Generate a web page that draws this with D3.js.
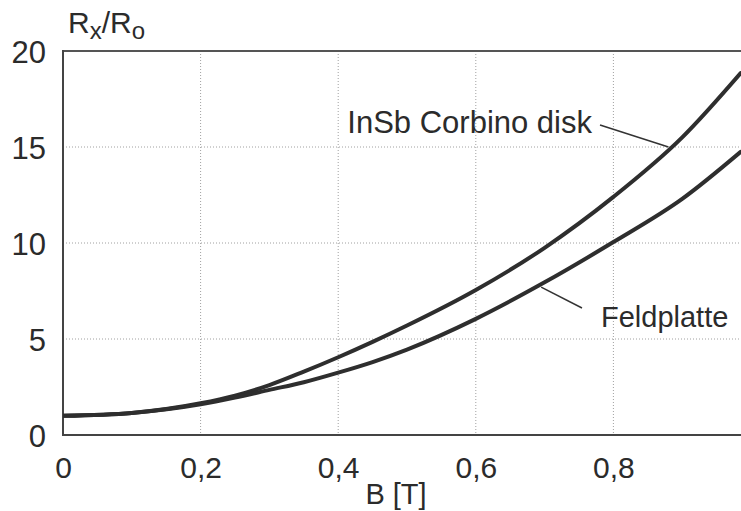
<!DOCTYPE html>
<html>
<head>
<meta charset="utf-8">
<script src="https://cdn.jsdelivr.net/npm/d3@7"></script>
<style>
  html, body { margin: 0; padding: 0; background: #fff; }
  svg { display: block; }
  text { font-family: "Liberation Sans", Arial, sans-serif; fill: #2b2b2b; }
</style>
</head>
<body>
<svg id="chart" width="741" height="511"></svg>
<script>
// ---- data ----
const fieldB      = [0, 0.1, 0.2, 0.25, 0.3, 0.35, 0.4, 0.45, 0.5, 0.6, 0.7, 0.8, 0.9, 0.985];
const insbValues  = [1.0, 1.15, 1.65, 2.05, 2.6, 3.3, 4.05, 4.85, 5.7, 7.55, 9.75, 12.4, 15.5, 18.85];
const feldValues  = [1.0, 1.15, 1.6, 1.95, 2.35, 2.75, 3.25, 3.8, 4.45, 6.05, 7.95, 10.05, 12.3, 14.75];
const seriesNames = ["InSb Corbino disk", "Feldplatte"];
const xTicks      = [0, 0.2, 0.4, 0.6, 0.8];
const xTickLabels = ["0", "0,2", "0,4", "0,6", "0,8"];
const yTicks      = [0, 5, 10, 15, 20];
const yTickLabels = ["0", "5", "10", "15", "20"];
const xTitle = "B [T]";
// label anchors on the curves (data space)
const insbAnchor = [0.88, 15.0];
const feldAnchor = [0.695, 7.7];

// ---- layout ----
const svg = d3.select("#chart");
const mLeft = 63, mRight = 741, mTop = 51, mBottom = 435;
const x = d3.scaleLinear().domain([0, 1]).range([mLeft, mLeft + 688]);
const y = d3.scaleLinear().domain([0, 20]).range([mBottom, mTop]);

svg.append("defs").append("clipPath").attr("id", "clip")
  .append("rect").attr("x", mLeft).attr("y", mTop - 5).attr("width", mRight - mLeft).attr("height", mBottom - mTop + 10);

// grid (dotted)
const grid = svg.append("g");
grid.selectAll("line.v").data(xTicks.filter(d => d > 0)).join("line")
  .attr("x1", d => x(d)).attr("x2", d => x(d))
  .attr("y1", y(20)).attr("y2", y(0))
  .attr("stroke", "#a0a0a0").attr("stroke-width", 1).attr("stroke-dasharray", "1,2");
grid.selectAll("line.h").data(yTicks.filter(d => d > 0 && d < 20)).join("line")
  .attr("x1", mLeft).attr("x2", mRight)
  .attr("y1", d => y(d)).attr("y2", d => y(d))
  .attr("stroke", "#a0a0a0").attr("stroke-width", 1).attr("stroke-dasharray", "1,2");

// frame: left, bottom, top
svg.append("line").attr("x1", mLeft).attr("x2", mRight).attr("y1", y(20)).attr("y2", y(20))
  .attr("stroke", "#555").attr("stroke-width", 2);
svg.append("line").attr("x1", mLeft).attr("x2", mRight).attr("y1", y(0)).attr("y2", y(0))
  .attr("stroke", "#444").attr("stroke-width", 2);
svg.append("line").attr("x1", mLeft).attr("x2", mLeft).attr("y1", y(20) - 1).attr("y2", y(0) + 1)
  .attr("stroke", "#444").attr("stroke-width", 2);

// axes (labels only)
const xAxis = d3.axisBottom(x).tickValues(xTicks).tickSize(0)
  .tickFormat((d, i) => xTickLabels[i]);
const gx = svg.append("g").attr("transform", `translate(0,${mBottom})`).call(xAxis);
gx.select(".domain").remove();
gx.selectAll("text").attr("y", 43).attr("dy", null)
  .style("font-size", "30px").style("font-family", "Liberation Sans, Arial, sans-serif").attr("fill", "#2b2b2b");

const yAxis = d3.axisLeft(y).tickValues(yTicks).tickSize(0).tickPadding(17)
  .tickFormat((d, i) => yTickLabels[i]);
const gy = svg.append("g").attr("transform", `translate(${mLeft},0)`).call(yAxis);
gy.select(".domain").remove();
gy.selectAll("text").attr("dy", "0.36em")
  .style("font-size", "31px").style("font-family", "Liberation Sans, Arial, sans-serif").attr("fill", "#2b2b2b");

// y title R_x/R_o
const yt = svg.append("text").attr("x", 68).attr("y", 33).style("font-size", "30px");
yt.append("tspan").text("R");
yt.append("tspan").text("x").attr("dy", 6).style("font-size", "24px");
yt.append("tspan").text("/R").attr("dy", -6);
yt.append("tspan").text("o").attr("dy", 6).style("font-size", "24px");

// x title
svg.append("text").attr("x", 396).attr("y", 504).attr("text-anchor", "middle")
  .style("font-size", "29px").text(xTitle);

// curves
const line = d3.line().x(d => x(d[0])).y(d => y(d[1])).curve(d3.curveMonotoneX);
const curves = svg.append("g").attr("clip-path", "url(#clip)");
[insbValues, feldValues].forEach(vals => {
  curves.append("path")
    .datum(fieldB.map((b, i) => [b, vals[i]]))
    .attr("d", line)
    .attr("fill", "none").attr("stroke", "#2e2e2e").attr("stroke-width", 4)
    .attr("stroke-linejoin", "round").attr("stroke-linecap", "round");
});

// annotations
svg.append("text").attr("x", 592).attr("y", 133).attr("text-anchor", "end")
  .style("font-size", "31px").text(seriesNames[0]);
svg.append("line").attr("x1", 600).attr("y1", 125)
  .attr("x2", x(insbAnchor[0])).attr("y2", y(insbAnchor[1]))
  .attr("stroke", "#333").attr("stroke-width", 1.5);

svg.append("text").attr("x", 601).attr("y", 327)
  .style("font-size", "29px").text(seriesNames[1]);
svg.append("line").attr("x1", 582).attr("y1", 308)
  .attr("x2", x(feldAnchor[0])).attr("y2", y(feldAnchor[1]))
  .attr("stroke", "#333").attr("stroke-width", 1.5);
</script>
</body>
</html>
